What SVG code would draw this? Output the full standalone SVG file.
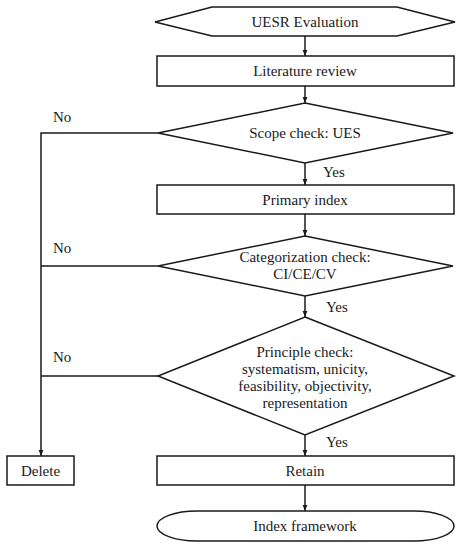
<svg xmlns="http://www.w3.org/2000/svg" width="469" height="550" viewBox="0 0 469 550">
<defs>
<marker id="ah" viewBox="0 0 10 10" refX="10" refY="5" markerWidth="6" markerHeight="6" markerUnits="userSpaceOnUse" orient="auto">
<path d="M0,1 L10,5 L0,9 z" fill="#1a1a1a"/>
</marker>
<style>
.s{fill:#fff;stroke:#1a1a1a;stroke-width:1.5}
.t{font-family:"Liberation Serif","Times New Roman",serif;font-size:15px;fill:#1a1a1a;text-anchor:middle;dominant-baseline:central}
.l{font-family:"Liberation Serif","Times New Roman",serif;font-size:15px;fill:#1a1a1a;dominant-baseline:central}
.c{fill:none;stroke:#1a1a1a;stroke-width:1.5}
</style>
</defs>
<rect width="469" height="550" fill="#fff"/>
<g id="connectors">
<line class="c" x1="305" y1="36" x2="305" y2="56" marker-end="url(#ah)"/>
<line class="c" x1="305" y1="86" x2="305" y2="103" marker-end="url(#ah)"/>
<line class="c" x1="305" y1="163" x2="305" y2="185" marker-end="url(#ah)"/>
<line class="c" x1="305" y1="214" x2="305" y2="236" marker-end="url(#ah)"/>
<line class="c" x1="305" y1="296" x2="305" y2="317" marker-end="url(#ah)"/>
<line class="c" x1="305" y1="435" x2="305" y2="456" marker-end="url(#ah)"/>
<line class="c" x1="305" y1="485" x2="305" y2="511" marker-end="url(#ah)"/>
<polyline class="c" points="158,133 41,133 41,456" marker-end="url(#ah)"/>
<line class="c" x1="158" y1="266" x2="41" y2="266"/>
<line class="c" x1="158" y1="376" x2="41" y2="376"/>
<text class="l" x="53" y="117">No</text>
<text class="l" x="53" y="248">No</text>
<text class="l" x="53" y="357">No</text>
<text class="l" x="323" y="172">Yes</text>
<text class="l" x="326" y="307">Yes</text>
<text class="l" x="326" y="442">Yes</text>
</g>
<g id="start">
<polygon class="s" points="155,22 212,7 397,7 455,22 397,36 212,36"/>
<text class="t" x="305" y="22">UESR Evaluation</text>
</g>
<g id="literature">
<rect class="s" x="157" y="56" width="297" height="30"/>
<text class="t" x="305" y="71">Literature review</text>
</g>
<g id="scope">
<polygon class="s" points="305,103 453,133 305,163 158,133"/>
<text class="t" x="305" y="133">Scope check: UES</text>
</g>
<g id="primary">
<rect class="s" x="157" y="185" width="297" height="29"/>
<text class="t" x="305" y="199.5">Primary index</text>
</g>
<g id="categorization">
<polygon class="s" points="305,236 453,266 305,296 158,266"/>
<text class="t" x="305" y="257">Categorization check:</text>
<text class="t" x="305" y="274">CI/CE/CV</text>
</g>
<g id="principle">
<polygon class="s" points="305,317 454,376 305,435 158,376"/>
<text class="t" x="305" y="352">Principle check:</text>
<text class="t" x="305" y="369">systematism, unicity,</text>
<text class="t" x="305" y="386">feasibility, objectivity,</text>
<text class="t" x="305" y="403">representation</text>
</g>
<g id="delete">
<rect class="s" x="7" y="456" width="67" height="29"/>
<text class="t" x="40.5" y="470.5">Delete</text>
</g>
<g id="retain">
<rect class="s" x="157" y="456" width="297" height="29"/>
<text class="t" x="305" y="470.5">Retain</text>
</g>
<g id="index">
<rect class="s" x="157" y="511" width="297" height="30" rx="40" ry="15"/>
<text class="t" x="305" y="526">Index framework</text>
</g>
</svg>
